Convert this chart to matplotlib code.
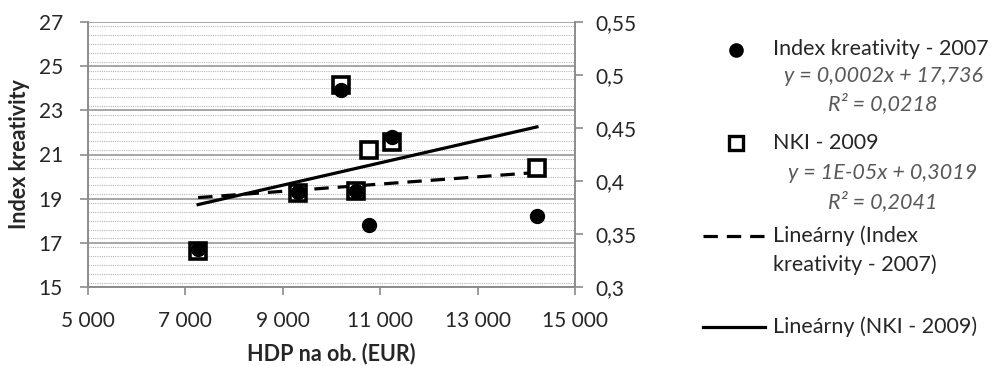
import numpy as np
import matplotlib
matplotlib.use("Agg")
import matplotlib.pyplot as plt
from matplotlib.ticker import MultipleLocator, FuncFormatter
from matplotlib.lines import Line2D

plt.rcParams['font.family'] = ['Lato', 'DejaVu Sans']

# data
hdp = [7261, 9317, 10189, 10497, 10777, 11237, 14219]
index_2007 = [16.7, 19.3, 23.9, 19.35, 17.8, 21.8, 18.2]
nki_2009 = [0.334, 0.389, 0.491, 0.391, 0.429, 0.437, 0.412]

x_ticks = [5000, 7000, 9000, 11000, 13000, 15000]
left_ticks = [15, 17, 19, 21, 23, 25, 27]
right_ticks = [0.3, 0.35, 0.4, 0.45, 0.5, 0.55]

eq_index = "y = 0,0002x + 17,736"
r2_index = "R² = 0,0218"
eq_nki = "y = 1E-05x + 0,3019"
r2_nki = "R² = 0,2041"

txt = '#262626'
axc = '#8c8c8c'
fs_tick = 15
fs_lab = 15.5
fs_leg = 15.5

fig = plt.figure(figsize=(9.94, 3.66), dpi=100)
pos = [88 / 994, 1 - 287 / 366, (575 - 88) / 994, (287 - 22) / 366]

# bottom axes: left scale + grid
ax = fig.add_axes(pos)
ax.set_xlim(5000, 15000)
ax.set_ylim(15, 27)
ax.set_xticks(x_ticks)
ax.set_yticks(left_ticks)
ax.yaxis.set_minor_locator(MultipleLocator(0.4))
ax.grid(True, which='major', axis='y', color='#a6a6a6', lw=1.4)
ax.grid(True, which='minor', axis='y', color='#b8b8b8', lw=0.8, ls=(0, (1, 1)))
ax.set_axisbelow(True)
ax.tick_params(which='minor', length=0)
ax.tick_params(which='major', length=6, width=1.2, color=axc, labelsize=fs_tick,
               labelcolor=txt)
ax.tick_params(axis='y', pad=12)
ax.tick_params(axis='x', pad=11)
ax.xaxis.set_major_formatter(FuncFormatter(lambda v, p: f"{v:,.0f}".replace(",", " ")))
ax.spines['top'].set_visible(False)
for s in ['left', 'bottom', 'right']:
    ax.spines[s].set_color(axc)
    ax.spines[s].set_linewidth(1.2)
ax.set_xlabel("HDP na ob. (EUR)", fontsize=fs_lab, fontweight='bold', color=txt, labelpad=9)
ax.set_ylabel("Index kreativity", fontsize=fs_lab, fontweight='bold', color=txt, labelpad=6)

# trend line for index (left axis), under the markers
k1 = np.polyfit(hdp, index_2007, 1)
xs = np.array([min(hdp), max(hdp)])
ax.plot(xs, np.polyval(k1, xs), color='black', lw=2.3, ls=(0, (4.5, 2.8)), zorder=2)

# right axis: NKI
ax2 = ax.twinx()
ax2.set_ylim(0.3, 0.55)
ax2.set_yticks(right_ticks)
ax2.yaxis.set_major_formatter(FuncFormatter(lambda v, p: f"{v:.2f}".rstrip('0').replace('.', ',')))
ax2.tick_params(length=6, width=1.2, color=axc, labelsize=fs_tick, labelcolor=txt, pad=9)
ax2.spines['top'].set_visible(False)
for s in ['left', 'bottom', 'right']:
    ax2.spines[s].set_color(axc)
    ax2.spines[s].set_linewidth(1.2)
k2 = np.polyfit(hdp, nki_2009, 1)
ax2.plot(xs, np.polyval(k2, xs), color='black', lw=2.3, zorder=2)
ax2.plot(hdp, nki_2009, ls='none', marker='s', ms=11.2, mfc='white', mec='black', mew=2.6, zorder=3)

# circles on top, sharing the left scale
ax3 = fig.add_axes(pos, sharex=ax, sharey=ax)
ax3.axis('off')
ax3.plot(hdp, index_2007, ls='none', marker='o', ms=10, color='black', zorder=3)

# legend built by hand
W, H = 994, 366
def fx(px):
    return px / W
def fy(py):
    return 1 - py / H

fig.add_artist(Line2D([fx(736)], [fy(50)], marker='o', ms=9.5, color='black', ls='none'))
fig.add_artist(Line2D([fx(736)], [fy(143)], marker='s', ms=10, mfc='white', mec='black',
                      mew=2.4, ls='none'))
fig.add_artist(Line2D([fx(703), fx(765)], [fy(236), fy(236)], color='black', lw=2.3,
                      ls=(0, (4.5, 2.8))))
fig.add_artist(Line2D([fx(703), fx(765)], [fy(327), fy(327)], color='black', lw=2.3))

lx = fx(773)
eqc = '#595959'
fig.text(lx, fy(49), "Index kreativity - 2007", fontsize=fs_leg, color=txt, va='center')
fig.text(fx(883), fy(76), eq_index, fontsize=fs_leg, color=eqc, style='italic',
         va='center', ha='center')
fig.text(fx(883), fy(104), r2_index, fontsize=fs_leg, color=eqc, style='italic',
         va='center', ha='center')
fig.text(lx, fy(143), "NKI - 2009", fontsize=fs_leg, color=txt, va='center')
fig.text(fx(883), fy(173), eq_nki, fontsize=fs_leg, color=eqc, style='italic',
         va='center', ha='center')
fig.text(fx(883), fy(202), r2_nki, fontsize=fs_leg, color=eqc, style='italic',
         va='center', ha='center')
fig.text(lx, fy(236), "Lineárny (Index", fontsize=fs_leg, color=txt, va='center')
fig.text(lx, fy(265), "kreativity - 2007)", fontsize=fs_leg, color=txt, va='center')
fig.text(lx, fy(327), "Lineárny (NKI - 2009)", fontsize=fs_leg, color=txt, va='center')

fig.savefig("out.png", dpi=100)
